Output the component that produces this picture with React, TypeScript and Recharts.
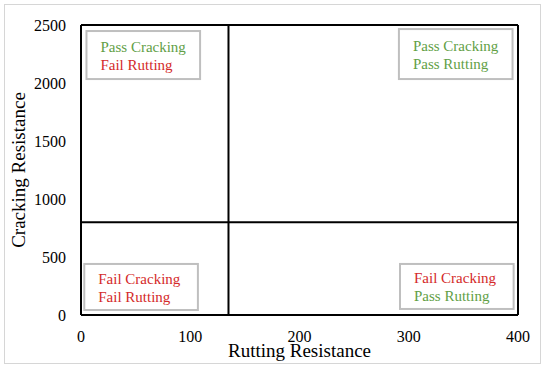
import {
  ComposedChart,
  XAxis,
  YAxis,
  ReferenceLine,
  ReferenceArea,
} from "recharts"

// axis ticks
const xTicks = [0, 100, 200, 300, 400]
const yTicks = [0, 500, 1000, 1500, 2000, 2500]

// thresholds splitting the chart into quadrants
const rutThreshold = 135
const crackThreshold = 800

// quadrant captions (top-left, top-right, bottom-left, bottom-right)
const crackingText = ["Pass Cracking", "Pass Cracking", "Fail Cracking", "Fail Cracking"]
const ruttingText = ["Fail Rutting", "Pass Rutting", "Fail Rutting", "Pass Rutting"]

const GREEN = "#62a046"
const RED = "#d42a2a"
const FONT = "'Liberation Serif', 'Times New Roman', serif"

// where each caption box sits, in data units
const boxes = [
  { x1: 5, x2: 109, y1: 2034, y2: 2448 },
  { x1: 291, x2: 395, y1: 2034, y2: 2465 },
  { x1: 3, x2: 107, y1: 43, y2: 440 },
  { x1: 292, x2: 396, y1: 52, y2: 440 },
]

const colorFor = (t: string) => (t.startsWith("Pass") ? GREEN : RED)

const CaptionBox = (props: any) => {
  const { x, y, width, height, top, bottom } = props
  const mid = y + height / 2
  return (
    <g>
      <rect x={x} y={y} width={width} height={height} fill="#fff" stroke="#bfbfbf" strokeWidth={2} />
      <text x={x + 14} y={mid - 3} style={{ fontFamily: FONT, fontSize: 15 }} fill={colorFor(top)}>
        {top}
      </text>
      <text x={x + 14} y={mid + 15} style={{ fontFamily: FONT, fontSize: 15 }} fill={colorFor(bottom)}>
        {bottom}
      </text>
    </g>
  )
}

export default function App() {
  return (
    <div
      style={{
        position: "absolute",
        left: 0,
        top: 0,
        width: 550,
        height: 369,
        background: "#fff",
        fontFamily: FONT,
      }}
    >
      <div
        style={{
          position: "absolute",
          left: 4,
          top: 4,
          width: 535,
          height: 358,
          border: "1px solid #d6d6d6",
        }}
      />
      <div style={{ position: "absolute", left: 0, top: 0 }}>
        <ComposedChart
          width={550}
          height={369}
          data={[{ x: 0, y: 0 }]}
          margin={{ top: 25, right: 32, bottom: 0, left: 0 }}
          style={{ fontFamily: FONT }}
        >
          <XAxis
            type="number"
            dataKey="x"
            domain={[0, 400]}
            ticks={xTicks}
            height={54}
            axisLine={{ stroke: "#000", strokeWidth: 2 }}
            tickLine={false}
            tickSize={0}
            tickMargin={16}
            tick={{ fill: "#000", fontSize: 16, style: { fontFamily: FONT } }}
            label={{
              content: (p: any) => {
                const vb = p.viewBox
                return (
                  <text
                    x={vb.x + vb.width / 2}
                    y={vb.y + 42}
                    textAnchor="middle"
                    style={{ fontFamily: FONT, fontSize: 19 }}
                    fill="#000"
                  >
                    Rutting Resistance
                  </text>
                )
              },
            }}
          />
          <YAxis
            type="number"
            dataKey="y"
            domain={[0, 2500]}
            ticks={yTicks}
            width={81}
            axisLine={{ stroke: "#000", strokeWidth: 2 }}
            tickLine={false}
            tickSize={0}
            tickMargin={15}
            tick={{ fill: "#000", fontSize: 16, style: { fontFamily: FONT } }}
            label={{
              content: (p: any) => {
                const vb = p.viewBox
                const cx = vb.x + 18
                const cy = vb.y + vb.height / 2
                return (
                  <text
                    x={cx}
                    y={cy}
                    transform={`rotate(-90 ${cx} ${cy})`}
                    textAnchor="middle"
                    dominantBaseline="central"
                    style={{ fontFamily: FONT, fontSize: 19 }}
                    fill="#000"
                  >
                    Cracking Resistance
                  </text>
                )
              },
            }}
          />
          <ReferenceLine y={2500} stroke="#000" strokeWidth={2} />
          <ReferenceLine x={400} stroke="#000" strokeWidth={2} />
          <ReferenceLine x={rutThreshold} stroke="#000" strokeWidth={2} />
          <ReferenceLine y={crackThreshold} stroke="#000" strokeWidth={2} />
          {boxes.map((b, i) => (
            <ReferenceArea
              key={i}
              x1={b.x1}
              x2={b.x2}
              y1={b.y1}
              y2={b.y2}
              shape={(p: any) => <CaptionBox {...p} top={crackingText[i]} bottom={ruttingText[i]} />}
            />
          ))}
        </ComposedChart>
      </div>
    </div>
  )
}
